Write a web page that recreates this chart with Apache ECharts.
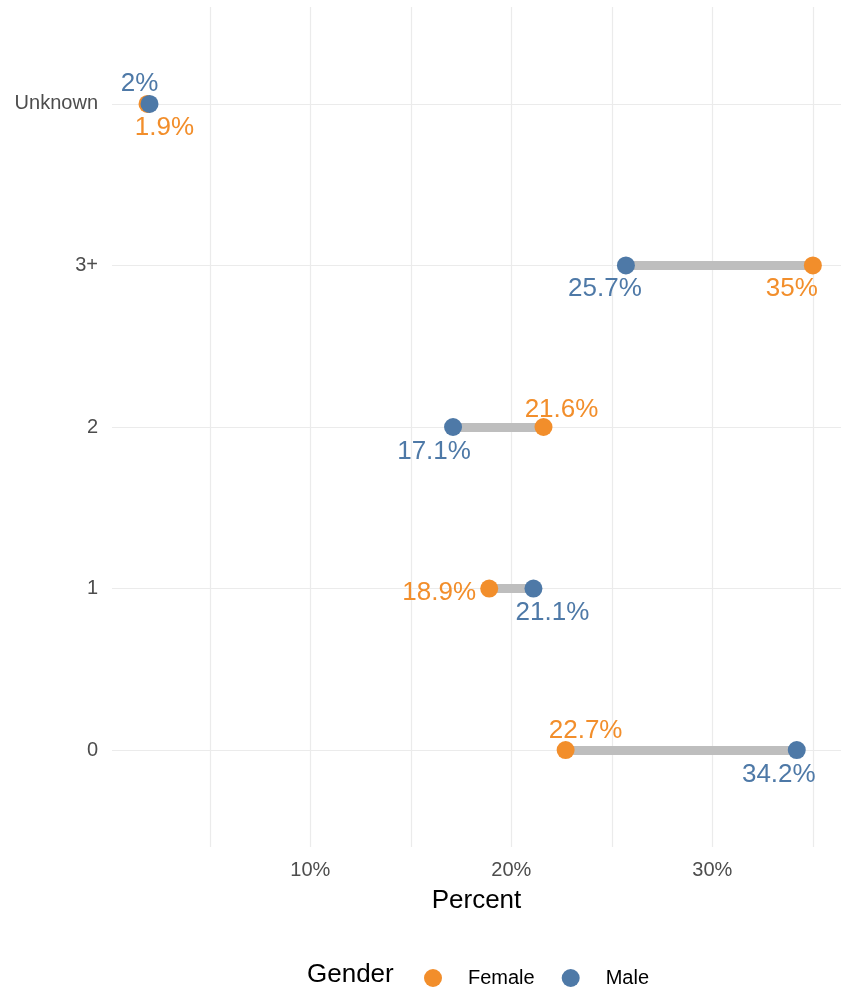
<!DOCTYPE html>
<html lang="en">
<head>
    <meta charset="utf-8"/>
    <title>Percent by category and gender</title>
    <script src="https://cdn.jsdelivr.net/npm/echarts@6/dist/echarts.min.js"></script>
    <style>
        html, body { margin: 0; padding: 0; background: #fff; }
        #chart { width: 841px; height: 992px; }
    </style>
</head>
<body>
    <div id="chart"></div>
    <script>
        // data
        const categories = ['0', '1', '2', '3+', 'Unknown'];
        const femaleValues = [22.7, 18.9, 21.6, 35, 1.9];
        const maleValues = [34.2, 21.1, 17.1, 25.7, 2];
        const xTickValues = [10, 20, 30];
        const xGridValues = [5, 10, 15, 20, 25, 30, 35];

        const femaleColor = '#F28E2B';
        const maleColor = '#4E79A7';
        const fontFamily = '"Liberation Sans", Arial, sans-serif';

        // where each value label sits relative to its dot (like ggrepel did)
        const femaleNudge = [[20, -19], [-50, 4], [18, -17], [-21, 23], [17, 24]];
        const maleNudge = [[-18, 25], [19, 24], [-19, 25], [-21, 23], [-10, -20]];

        function pointData(values, nudges, color) {
            return values.map(function (v, i) {
                return {
                    value: [v, i],
                    label: {
                        show: true,
                        position: 'inside',
                        offset: nudges[i],
                        color: color,
                        fontSize: 26,
                        fontFamily: fontFamily,
                        formatter: function (p) { return p.value[0] + '%'; }
                    }
                };
            });
        }

        const segments = categories.map(function (c, i) {
            return { coords: [[femaleValues[i], i], [maleValues[i], i]] };
        });

        const chart = echarts.init(document.getElementById('chart'), null, { renderer: 'canvas' });
        const gridLine = { color: '#EBEBEB', width: 1.2, type: 'solid' };

        const option = {
            backgroundColor: '#ffffff',
            animation: false,
            title: {
                text: 'Gender',
                left: 307,
                top: 962,
                padding: 0,
                textStyle: { fontSize: 26, fontWeight: 'normal', color: '#000', fontFamily: fontFamily }
            },
            legend: {
                data: ['Female', 'Male'],
                left: 424,
                top: 968,
                padding: 0,
                icon: 'circle',
                itemWidth: 18,
                itemHeight: 18,
                itemGap: 27,
                textStyle: { fontSize: 20, color: '#000', fontFamily: fontFamily, padding: [0, 0, 0, 21] }
            },
            grid: { left: 112, right: 0, top: 7, bottom: 145, containLabel: false },
            xAxis: {
                type: 'value',
                min: 0.134,
                max: 36.4,
                name: 'Percent',
                nameLocation: 'middle',
                nameGap: 41,
                nameTextStyle: { fontSize: 26, color: '#000', fontFamily: fontFamily },
                axisLine: { show: false },
                axisTick: { show: false },
                splitLine: { show: false },
                axisLabel: {
                    customValues: xTickValues,
                    formatter: function (v) { return v + '%'; },
                    fontSize: 20,
                    color: '#4D4D4D',
                    fontFamily: fontFamily,
                    margin: 13
                }
            },
            yAxis: {
                type: 'value',
                min: -0.6,
                max: 4.6,
                axisLine: { show: false },
                axisTick: { show: false },
                splitLine: { show: false },
                axisLabel: {
                    customValues: categories.map(function (c, i) { return i; }),
                    formatter: function (v) { return categories[v]; },
                    fontSize: 20,
                    color: '#4D4D4D',
                    fontFamily: fontFamily,
                    margin: 14
                }
            },
            series: [
                {
                    name: 'grid',
                    type: 'scatter',
                    data: [],
                    zlevel: 0,
                    silent: true,
                    markLine: {
                        silent: true,
                        symbol: 'none',
                        label: { show: false },
                        lineStyle: gridLine,
                        data: xGridValues.map(function (v) { return { xAxis: v }; })
                            .concat(categories.map(function (c, i) { return { yAxis: i }; }))
                    }
                },
                {
                    name: 'segment',
                    type: 'lines',
                    coordinateSystem: 'cartesian2d',
                    zlevel: 1,
                    z: 1,
                    silent: true,
                    lineStyle: { color: '#BEBEBE', width: 9, opacity: 1, cap: 'butt' },
                    data: segments
                },
                {
                    name: 'Female',
                    type: 'scatter',
                    zlevel: 1,
                    z: 2,
                    symbol: 'circle',
                    symbolSize: 18,
                    itemStyle: { color: femaleColor, opacity: 1 },
                    data: pointData(femaleValues, femaleNudge, femaleColor)
                },
                {
                    name: 'Male',
                    type: 'scatter',
                    zlevel: 1,
                    z: 3,
                    symbol: 'circle',
                    symbolSize: 18,
                    itemStyle: { color: maleColor, opacity: 1 },
                    data: pointData(maleValues, maleNudge, maleColor)
                }
            ]
        };
        chart.setOption(option);
    </script>
</body>
</html>
